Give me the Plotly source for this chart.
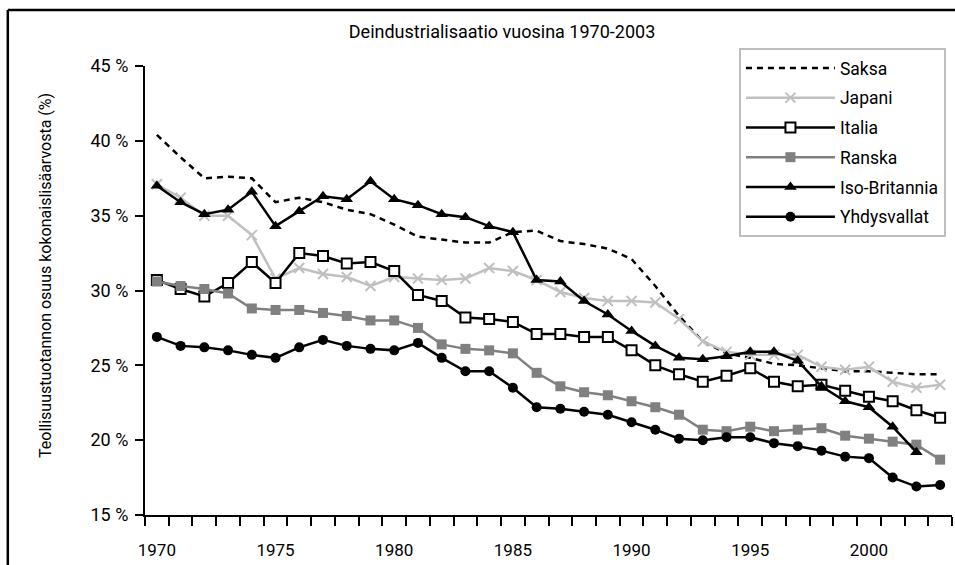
import plotly.graph_objects as go

years = list(range(1970, 2004))

saksa = [40.4, 38.9, 37.5, 37.6, 37.5, 35.9, 36.2, 35.9, 35.4, 35.1,
         34.4, 33.6, 33.4, 33.2, 33.2, 33.9, 34.0, 33.3, 33.1, 32.8,
         32.1, 30.3, 28.3, 26.6, 25.8, 25.5, 25.1, 25.0, 24.8, 24.6,
         24.6, 24.5, 24.4, 24.4]
japani = [37.1, 36.2, 35.0, 35.0, 33.7, 30.8, 31.5, 31.1, 30.9, 30.3,
          30.9, 30.8, 30.7, 30.8, 31.5, 31.3, 30.7, 29.9, 29.5, 29.3,
          29.3, 29.2, 28.1, 26.6, 25.9, 25.7, 25.7, 25.7, 24.9, 24.7,
          24.9, 23.9, 23.5, 23.7]
italia = [30.7, 30.1, 29.6, 30.5, 31.9, 30.5, 32.5, 32.3, 31.8, 31.9,
          31.3, 29.7, 29.3, 28.2, 28.1, 27.9, 27.1, 27.1, 26.9, 26.9,
          26.0, 25.0, 24.4, 23.9, 24.3, 24.8, 23.9, 23.6, 23.7, 23.3,
          22.9, 22.6, 22.0, 21.5]
ranska = [30.6, 30.3, 30.1, 29.8, 28.8, 28.7, 28.7, 28.5, 28.3, 28.0,
          28.0, 27.5, 26.4, 26.1, 26.0, 25.8, 24.5, 23.6, 23.2, 23.0,
          22.6, 22.2, 21.7, 20.7, 20.6, 20.9, 20.6, 20.7, 20.8, 20.3,
          20.1, 19.9, 19.7, 18.7]
iso_britannia = [37.0, 35.9, 35.1, 35.4, 36.6, 34.3, 35.3, 36.3, 36.1, 37.3,
                 36.1, 35.7, 35.1, 34.9, 34.3, 33.9, 30.7, 30.6, 29.3, 28.4,
                 27.3, 26.3, 25.5, 25.4, 25.6, 25.9, 25.9, 25.3, 23.6, 22.6,
                 22.2, 20.9, 19.2, None]
yhdysvallat = [26.9, 26.3, 26.2, 26.0, 25.7, 25.5, 26.2, 26.7, 26.3, 26.1,
               26.0, 26.5, 25.5, 24.6, 24.6, 23.5, 22.2, 22.1, 21.9, 21.7,
               21.2, 20.7, 20.1, 20.0, 20.2, 20.2, 19.8, 19.6, 19.3, 18.9,
               18.8, 17.5, 16.9, 17.0]

FONT = "Roboto, Arial, sans-serif"

fig = go.Figure()

fig.add_trace(go.Scatter(x=years, y=saksa, name="Saksa", mode="lines", legendgroup="a",
                         line=dict(color="black", width=2.5, dash="6px,5px")))
fig.add_trace(go.Scatter(x=years, y=japani, name="Japani", mode="lines+markers", legendgroup="b",
                         line=dict(color="#c0c0c0", width=2.5),
                         marker=dict(symbol="x-thin", size=10,
                                     line=dict(color="#c0c0c0", width=2))))
fig.add_trace(go.Scatter(x=years, y=italia, name="Italia", mode="lines+markers", legendgroup="c",
                         line=dict(color="black", width=2.5),
                         marker=dict(symbol="square", size=10, color="white",
                                     line=dict(color="black", width=2))))
fig.add_trace(go.Scatter(x=years, y=ranska, name="Ranska", mode="lines+markers", legendgroup="d",
                         line=dict(color="#808080", width=2.5),
                         marker=dict(symbol="square", size=10, color="#808080")))
fig.add_trace(go.Scatter(x=years, y=iso_britannia, name="Iso-Britannia", mode="lines+markers",
                         legendgroup="e",
                         line=dict(color="black", width=2.5),
                         marker=dict(symbol="triangle-up", size=11, color="black")))
fig.add_trace(go.Scatter(x=years, y=yhdysvallat, name="Yhdysvallat", mode="lines+markers",
                         legendgroup="f",
                         line=dict(color="black", width=2.5),
                         marker=dict(symbol="circle", size=10, color="black")))

# outer frame of the chart: only its top and left edges fall inside the picture
frame = dict(color="black", width=2.5)
fig.add_shape(type="line", xref="paper", yref="paper",
              x0=-0.17, x1=1.3, y0=1.1247, y1=1.1247, line=frame, layer="below")
fig.add_shape(type="line", xref="paper", yref="paper",
              x0=-0.17, x1=-0.17, y0=-0.3, y1=1.1247, line=frame, layer="below")

# y axis title as a rotated annotation (sits a bit above the plot centre)
fig.add_annotation(text="Teollisuustuotannon osuus kokonaislisäarvosta (%)",
                   xref="paper", yref="paper", x=-0.124, y=0.5345,
                   xanchor="center", yanchor="middle",
                   textangle=-90, showarrow=False, font=dict(size=16))

fig.update_layout(
    width=955, height=565,
    margin=dict(l=145, r=3, t=66, b=50, autoexpand=False),
    plot_bgcolor="white", paper_bgcolor="white",
    font=dict(family=FONT, size=16, color="black"),
    title=dict(text="Deindustrialisaatio vuosina 1970-2003", x=0.5257, xanchor="center",
               y=1 - 32 / 565, yanchor="middle", font=dict(size=18)),
    showlegend=True,
    legend=dict(x=0.736, y=1.04, xanchor="left", yanchor="top",
                bgcolor="white", bordercolor="#bdbdbd", borderwidth=2,
                font=dict(size=17.5), traceorder="grouped", tracegroupgap=4,
                itemwidth=89),
    xaxis=dict(range=[1969.5, 2003.5], tickvals=[1970, 1975, 1980, 1985, 1990, 1995, 2000],
               ticks="", showgrid=False, zeroline=False,
               showline=True, linecolor="black", linewidth=2,
               ticklabelstandoff=19, tickfont=dict(size=17),
               minor=dict(ticks="outside", tick0=1969.5, dtick=1, ticklen=9,
                          tickwidth=2, tickcolor="black", showgrid=False)),
    yaxis=dict(range=[15, 45], dtick=5, ticksuffix=" %",
               ticks="outside", ticklen=8, tickwidth=2, tickcolor="black",
               showgrid=False, zeroline=False,
               showline=True, linecolor="black", linewidth=2,
               ticklabelstandoff=3, tickfont=dict(size=18)),
)

fig.write_html("out.html", config={"displayModeBar": False},
               post_script="document.body.style.margin='0';")
